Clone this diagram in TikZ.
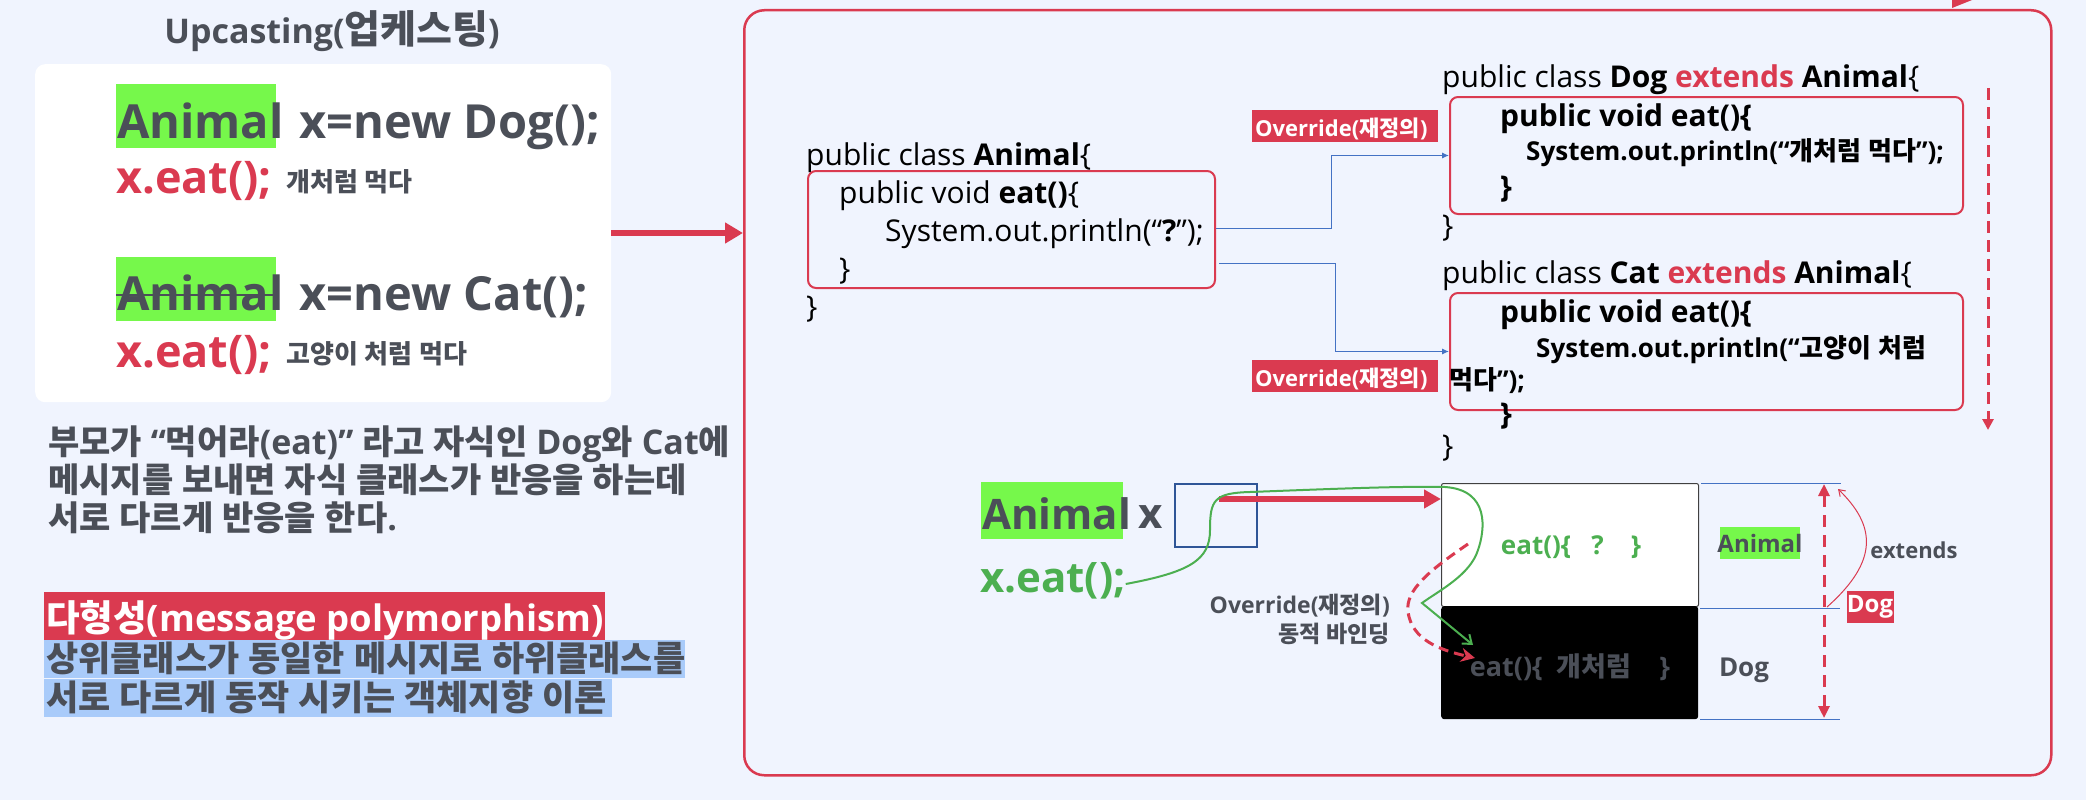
\documentclass[tikz,border=0pt]{standalone}
\usepackage{fontspec}
\usetikzlibrary{arrows.meta}
\setmainfont{Open Sans}
\newfontfamily\latinfam{Open Sans}
\newfontfamily\krfont{Noto Sans CJK KR}
\XeTeXinterchartokenstate=1
\newXeTeXintercharclass\HangulClass
\newcount\hgcnt
\hgcnt="AC00
\loop
  \XeTeXcharclass\hgcnt=\HangulClass
  \advance\hgcnt by 1
\ifnum\hgcnt<"D7A4 \repeat
\newcount\clcnt
\clcnt=0
\loop
  \ifnum\clcnt=\HangulClass\else
    \XeTeXinterchartoks\clcnt\HangulClass={\krfont}%
    \XeTeXinterchartoks\HangulClass\clcnt={\latinfam}%
  \fi
  \advance\clcnt by 1
\ifnum\clcnt<8 \repeat
\XeTeXinterchartoks 4095 \HangulClass={\krfont}
\XeTeXinterchartoks \HangulClass 4095={\latinfam}
\newcommand{\mysz}[1]{\fontsize{#1pt}{#1pt}\selectfont}
\definecolor{bgc}{RGB}{240,244,254}
\definecolor{rd}{RGB}{218,58,80}
\definecolor{gry}{RGB}{75,79,88}
\definecolor{hlg}{RGB}{118,248,75}
\definecolor{grn}{RGB}{76,175,80}
\definecolor{blu}{RGB}{68,114,196}
\definecolor{sqb}{RGB}{47,85,151}
\definecolor{hlb}{RGB}{169,203,250}
\tikzset{
  txt/.style={inner sep=0pt, anchor=base west},
  ctr/.style={inner sep=0pt, anchor=center},
  boxr/.style={draw=rd, line width=2pt, rounded corners=8pt, anchor=north west, inner sep=0pt, minimum width=513pt, minimum height=117pt},
  conn/.style={blu, line width=1pt, -{Latex[length=7pt,width=6pt]}},
  code/.style={txt, text=black, font=\mysz{30}},
  codeb/.style={txt, text=black, font={\bfseries\mysz{30}}},
  codes/.style={txt, text=black, font={\bfseries\mysz{26}}},
  ovlab/.style={txt, text=white, font={\bfseries\mysz{22}}},
  bigtxt/.style={txt, text=gry, font={\bfseries\mysz{47}}},
  redcall/.style={txt, text=rd, font={\bfseries\mysz{45}}},
  smallkr/.style={txt, text=gry, font={\bfseries\mysz{26}}},
  para/.style={txt, text=gry, font={\bfseries\mysz{34}}},
  blpara/.style={txt, text=gry, font={\bfseries\mysz{35}}},
  blines/.style={blu, line width=1pt}
}
\begin{document}
\begin{tikzpicture}[x=1pt,y=-1pt]
\fill[bgc] (0,0) rectangle (2086,800);
\useasboundingbox (0,0) rectangle (2086,800);

% ---------- left panel ----------
\node[inner sep=0pt, anchor=base, text=gry, font={\bfseries\mysz{34}}] (title) at (332,44) {Upcasting({\mysz{39}업케스팅})};
\node[fill=white, rounded corners=10pt, inner sep=0pt, minimum width=576pt, minimum height=338pt, anchor=north west] (wbox) at (35,64) {};

\fill[hlg] (116,84) rectangle (276,148);
\node[bigtxt] (l1) at (117,138) {Animal\hspace{16pt}x=new Dog();};
\node[redcall] (e1) at (116,193) {x.eat();};
\node[smallkr] (k1) at (286,191) {개처럼 먹다};

\fill[hlg] (116,257) rectangle (276,321);
\node[bigtxt] (l2) at (117,310) {Animal\hspace{16pt}x=new Cat();};
\draw[gry, line width=2pt] (116,295) -- (276,295);
\node[redcall] (e2) at (116,367) {x.eat();};
\node[smallkr] (k2) at (286,363) {고양이 처럼 먹다};

\node[para] (p1) at (48,454) {부모가 “먹어라(eat)” 라고 자식인 Dog와 Cat에};
\node[para] (p2) at (48,492) {메시지를 보내면 자식 클래스가 반응을 하는데};
\node[para] (p3) at (48,530) {서로 다르게 반응을 한다.};

\fill[rd] (44,592) rectangle (605,640);
\node[txt, text=white, font={\bfseries\mysz{36.5}}] (poly) at (46,631) {다형성(message polymorphism)};
\fill[hlb] (44,640) rectangle (685,678);
\fill[hlb] (44,679) rectangle (612,717);
\node[blpara] (d1) at (46,671) {상위클래스가 동일한 메시지로 하위클래스를};
\node[blpara] (d2) at (46,710) {서로 다르게 동작 시키는 객체지향 이론};

% ---------- right panel ----------
\node[draw=rd, line width=2.5pt, rounded corners=20pt, minimum width=1307pt, minimum height=765pt, anchor=north west, inner sep=0pt] (big) at (743,9) {};
\fill[rd] (1952,0) -- (1972,0) -- (1952,8) -- cycle;

\coordinate (ay) at (0,233);
\draw[rd, line width=6pt, -{Triangle[length=18pt,width=20pt]}] (wbox.east |- ay) -- (big.west |- ay);

% Animal class
\node[code] (ac1) at (806,165) {public class \textbf{Animal}\{};
\node[boxr, minimum width=407pt] (abox) at (807,170) {};
\node[code] (ac2) at (839,203) {public void \textbf{eat()}\{};
\node[code] (ac3) at (885,241) {System.out.println(“\textbf{?}”);};
\node[code] (ac4) at (839,279) {\}};
\node[code] (ac5) at (806,317) {\}};

% Dog class
\node[code] (dc1) at (1442,88) {public class \textbf{Dog} \textbf{\color{rd}extends} \textbf{Animal}\{};
\node[boxr] (dbox) at (1449,96) {};
\node[codeb] (dc2) at (1500,126) {public void eat()\{};
\node[codes] (dc3) at (1526,160) {System.out.println(“개처럼 먹다”);};
\node[codeb] (dc4) at (1500,197) {\}};
\node[code] (dc5) at (1442,236) {\}};

% Cat class
\node[code] (cc1) at (1442,283) {public class \textbf{Cat} \textbf{\color{rd}extends} \textbf{Animal}\{};
\node[boxr] (cbox) at (1449,292) {};
\node[codeb] (cc2) at (1500,322) {public void eat()\{};
\node[codes] (cc3) at (1536,357) {System.out.println(“고양이 처럼};
\node[codes] (cc4) at (1449,389) {먹다”);};
\node[codeb] (cc5) at (1500,424) {\}};
\node[code] (cc6) at (1442,456) {\}};

% override labels
\fill[rd] (1252,110) rectangle (1438,142);
\node[ovlab] (ov1) at (1255,136) {Override(재정의)};
\fill[rd] (1252,360) rectangle (1438,392);
\node[ovlab] (ov2) at (1255,386) {Override(재정의)};

% blue connectors
\coordinate (b1) at (0,228);
\coordinate (b2s) at (1219,263);
\draw[conn] (abox.east |- b1) -- (1331,228) |- (dbox.west);
\draw[conn] (b2s) -- (1335,263) |- (cbox.west);

% red dashed vertical arrow
\coordinate (va) at (1988,88);
\coordinate (vb) at (1988,430);
\draw[rd, line width=3pt, dash pattern=on 12pt off 7pt, -{Triangle[length=11pt,width=11pt]}] (va) -- (vb);

% ---------- bottom: reference and memory ----------
\fill[hlg] (981,482) rectangle (1123,539);
\node[txt, text=gry, font={\bfseries\mysz{42}}] (anim) at (982,529) {Animal};
\node[txt, text=gry, font={\bfseries\mysz{42}}] (xx) at (1138,528) {x};
\node[draw=sqb, line width=2pt, minimum width=82pt, minimum height=63pt, anchor=north west, inner sep=0pt] (xbox) at (1174,483) {};
\node[txt, text=grn, font={\bfseries\mysz{42}}] (call) at (980,592) {x.eat();};

\node[draw=black!75, fill=white, line width=1pt, anchor=north west, minimum width=257pt, minimum height=123pt, inner sep=0pt, rounded corners=2pt] (mA) at (1441,483) {};
\node[fill=black, anchor=north west, minimum width=257pt, minimum height=113pt, inner sep=0pt, rounded corners=3pt] (mD) at (1441,606) {};
\node[ctr, text=grn, font={\bfseries\mysz{26}}] (mAt) at (1571,547) {eat()\{\ \ \ ?\ \ \ \ \}};
\node[ctr, text=gry, font={\bfseries\mysz{27}}] (mDt) at (1570,667) {eat()\{\ \ 개처럼\ \ \ \ \}};

\draw[blines] ([xshift=2pt]mA.north east) -- ++(140,0);
\draw[blines] ([xshift=2pt]mD.north east) ++(0,2) -- ++(140,0);
\draw[blines] ([xshift=2pt]mD.south east) -- ++(140,0);

\fill[hlg] (1720,527) rectangle (1800,559);
\node[ctr, text=gry, font={\bfseries\mysz{24}}] (lA) at (1760,543) {Animal};
\node[ctr, text=gry, font={\bfseries\mysz{26}}] (lD) at (1744,670) {Dog};

\coordinate (da) at (1824,484);
\coordinate (db) at (1824,718);
\draw[rd, line width=3pt, dash pattern=on 12pt off 8pt, {Triangle[length=12pt,width=11pt]}-{Triangle[length=12pt,width=11pt]}] (da) -- (db);

\coordinate (ea) at (1827,607);
\coordinate (eb) at (1838,489);
\draw[rd, line width=1pt, -{Straight Barb[length=6pt,width=8pt]}] (ea) .. controls (1880,560) and (1875,525) .. (eb);
\node[ctr, text=gry, font={\bfseries\mysz{22}}] (ext) at (1914,550) {extends};
\fill[rd] (1847,591) rectangle (1894,623);
\node[ctr, text=white, font={\bfseries\mysz{24}}] (dogl) at (1870,607) {Dog};

% red thick reference arrow
\coordinate (ra) at (1219,499);
\draw[rd, line width=6pt, -{Triangle[length=17pt,width=18pt]}] (ra) -- (mA.west |- ra);

% green call path
\coordinate (gt) at (1422,603);
\draw[grn, line width=2pt, -{Straight Barb[length=8pt,width=12pt]}] (call.east |- 0,584) .. controls (1190,572) and (1210,560) .. (1210,530) .. controls (1210,500) and (1214,493) .. (1250,492) .. controls (1330,489) and (1400,486) .. (1445,487) .. controls (1490,490) and (1485,530) .. (1478,550) .. controls (1470,575) and (1440,590) .. (gt) -- (1473,645);

% red dashed dynamic binding
\coordinate (rs) at (1468,544);
\draw[rd, line width=3pt, dash pattern=on 10pt off 6pt, -{Stealth[length=14pt,width=14pt]}] (rs) .. controls (1430,570) and (1405,590) .. (1408,612) .. controls (1412,640) and (1440,650) .. (1475,658);

\node[inner sep=0pt, anchor=base east, text=gry, font={\bfseries\mysz{23}}] (ovt1) at (1390,613) {Override(재정의)};
\node[inner sep=0pt, anchor=base east, text=gry, font={\bfseries\mysz{23}}] (ovt2) at (1390,642) {동적 바인딩};
\end{tikzpicture}
\end{document}
